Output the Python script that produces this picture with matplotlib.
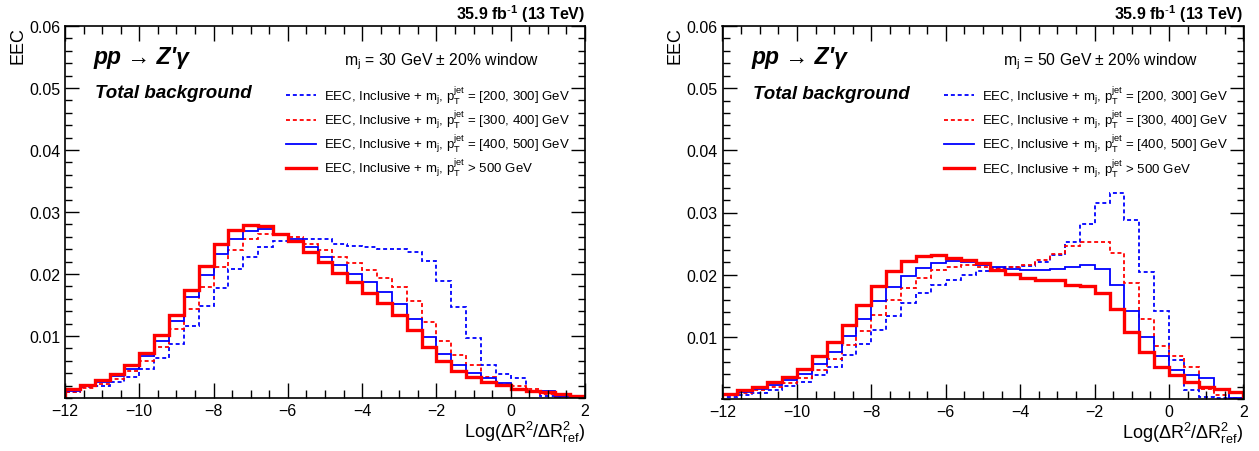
import numpy as np
import matplotlib
matplotlib.use("Agg")
import matplotlib.pyplot as plt

plt.rcParams["font.family"] = ["Liberation Sans", "DejaVu Sans"]
plt.rcParams["mathtext.fontset"] = "custom"
plt.rcParams["mathtext.rm"] = "Liberation Sans"
plt.rcParams["mathtext.it"] = "Liberation Sans:italic"
plt.rcParams["mathtext.bf"] = "Liberation Sans:bold"

# 35 bins of width 0.4 between -12 and 2
edges = np.linspace(-12, 2, 36)

# left panel: m_j = 30 GeV
left_200_300 = [0.0010, 0.0018, 0.0019, 0.0026, 0.0034, 0.0047, 0.0064, 0.0087, 0.0116, 0.0148,
                0.0178, 0.0208, 0.0228, 0.0244, 0.0253, 0.0253, 0.0257, 0.0257, 0.0249, 0.0245,
                0.0243, 0.0241, 0.0241, 0.0236, 0.0221, 0.0189, 0.0146, 0.0096, 0.0054, 0.0038,
                0.0032, 0.0012, 0.0003, 0.0002, 0.0002]
left_300_400 = [0.0010, 0.0016, 0.0022, 0.0031, 0.0043, 0.0059, 0.0082, 0.0111, 0.0144, 0.0179,
                0.0212, 0.0239, 0.0256, 0.0264, 0.0264, 0.0259, 0.0249, 0.0239, 0.0228, 0.0217,
                0.0207, 0.0194, 0.0179, 0.0156, 0.0123, 0.0092, 0.0070, 0.0054, 0.0034, 0.0022,
                0.0019, 0.0014, 0.0006, 0.0002, 0.0001]
left_400_500 = [0.0012, 0.0019, 0.0026, 0.0035, 0.0047, 0.0068, 0.0092, 0.0124, 0.0163, 0.0199,
                0.0232, 0.0257, 0.0270, 0.0272, 0.0264, 0.0256, 0.0243, 0.0228, 0.0214, 0.0200,
                0.0187, 0.0171, 0.0152, 0.0128, 0.0099, 0.0071, 0.0054, 0.0040, 0.0032, 0.0024,
                0.0015, 0.0011, 0.0011, 0.0003, 0.0002]
left_500 = [0.0015, 0.0021, 0.0029, 0.0039, 0.0054, 0.0073, 0.0101, 0.0134, 0.0175, 0.0213,
            0.0248, 0.0271, 0.0279, 0.0278, 0.0265, 0.0253, 0.0236, 0.0220, 0.0202, 0.0187,
            0.0170, 0.0154, 0.0134, 0.0109, 0.0083, 0.0059, 0.0044, 0.0034, 0.0026, 0.0021,
            0.0015, 0.0011, 0.0009, 0.0006, 0.0004]

# right panel: m_j = 50 GeV
right_200_300 = [0.0003, 0.0007, 0.0010, 0.0015, 0.0021, 0.0028, 0.0038, 0.0051, 0.0070, 0.0089,
                 0.0111, 0.0134, 0.0154, 0.0171, 0.0184, 0.0192, 0.0200, 0.0206, 0.0211, 0.0213,
                 0.0214, 0.0220, 0.0232, 0.0253, 0.0281, 0.0316, 0.0331, 0.0288, 0.0205, 0.0142,
                 0.0063, 0.0014, 0.0003, 0.0001, 0.0000]
right_300_400 = [0.0006, 0.0010, 0.0014, 0.0019, 0.0026, 0.0034, 0.0047, 0.0064, 0.0087, 0.0110,
                 0.0135, 0.0159, 0.0179, 0.0195, 0.0208, 0.0213, 0.0216, 0.0213, 0.0211, 0.0213,
                 0.0215, 0.0223, 0.0234, 0.0246, 0.0252, 0.0252, 0.0235, 0.0186, 0.0128, 0.0086,
                 0.0069, 0.0051, 0.0016, 0.0006, 0.0001]
right_400_500 = [0.0007, 0.0012, 0.0016, 0.0022, 0.0031, 0.0041, 0.0056, 0.0076, 0.0102, 0.0129,
                 0.0157, 0.0180, 0.0198, 0.0211, 0.0218, 0.0222, 0.0220, 0.0216, 0.0213, 0.0209,
                 0.0208, 0.0207, 0.0209, 0.0213, 0.0216, 0.0209, 0.0184, 0.0141, 0.0099, 0.0069,
                 0.0047, 0.0038, 0.0034, 0.0014, 0.0001]
right_500 = [0.0008, 0.0014, 0.0019, 0.0027, 0.0035, 0.0048, 0.0069, 0.0091, 0.0119, 0.0152,
             0.0182, 0.0206, 0.0222, 0.0230, 0.0231, 0.0227, 0.0224, 0.0219, 0.0208, 0.0201,
             0.0195, 0.0192, 0.0191, 0.0184, 0.0182, 0.0171, 0.0144, 0.0107, 0.0075, 0.0051,
             0.0039, 0.0027, 0.0019, 0.0016, 0.0011]

labels = [
    r"EEC, Inclusive + m$_{\mathrm{j}}$, p$_{\mathrm{T}}^{\mathrm{jet}}$ = [200, 300] GeV",
    r"EEC, Inclusive + m$_{\mathrm{j}}$, p$_{\mathrm{T}}^{\mathrm{jet}}$ = [300, 400] GeV",
    r"EEC, Inclusive + m$_{\mathrm{j}}$, p$_{\mathrm{T}}^{\mathrm{jet}}$ = [400, 500] GeV",
    r"EEC, Inclusive + m$_{\mathrm{j}}$, p$_{\mathrm{T}}^{\mathrm{jet}}$ > 500 GeV",
]
styles = [
    dict(color="#0000ff", lw=1.3, ls=(0, (2.2, 1.6))),
    dict(color="#ff0000", lw=1.3, ls=(0, (2.2, 1.6))),
    dict(color="#0000ff", lw=1.3, ls="-"),
    dict(color="#ff0000", lw=2.4, ls="-"),
]
mass_windows = ["30", "50"]


def draw_panel(ax, series, mass):
    for vals, st, lab in zip(series, styles, labels):
        ax.stairs(vals, edges, label=lab, **st)

    ax.set_xlim(-12, 2)
    ax.set_ylim(0, 0.06)
    ax.set_xticks([-12, -10, -8, -6, -4, -2, 0, 2])
    ax.set_xticklabels(["\u221212", "\u221210", "\u22128", "\u22126", "\u22124", "\u22122", "0", "2"])
    ax.set_xticks(np.arange(-12, 2.01, 0.5), minor=True)
    ax.set_yticks([0.01, 0.02, 0.03, 0.04, 0.05, 0.06])
    ax.set_yticklabels(["0.01", "0.02", "0.03", "0.04", "0.05", "0.06"])
    ax.set_yticks(np.arange(0, 0.0601, 0.002), minor=True)
    ax.tick_params(which="both", direction="in", top=True, right=True, labelsize=11.5, width=1.0)
    ax.tick_params(which="major", length=11)
    ax.tick_params(which="minor", length=6)
    ax.tick_params(axis="y", which="major", length=10)
    ax.tick_params(axis="y", which="minor", length=5)
    for sp in ax.spines.values():
        sp.set_linewidth(1.2)

    ax.set_ylabel("EEC", loc="top", fontsize=13, labelpad=2)
    ax.set_xlabel(r"Log($\Delta$R$^{2}$/$\Delta$R$^{2}_{\mathrm{ref}}$)", loc="right", fontsize=13, labelpad=1)
    ax.set_title("35.9 fb$^{\\mathbf{\\text{-}1}}$ (13 TeV)", loc="right", fontsize=11.5, fontweight="bold", pad=5)

    ax.text(0.055, 0.917, "pp \u2192 Z'\u03b3", transform=ax.transAxes,
            fontsize=16.5, fontweight="bold", style="italic", va="center")
    ax.text(0.058, 0.82, "Total background", transform=ax.transAxes,
            fontsize=13.5, fontweight="bold", style="italic", va="center")
    ax.text(0.725, 0.906, "m$_{\\mathrm{j}}$ = " + mass + " GeV \u00b1 20% window", transform=ax.transAxes,
            fontsize=11.3, ha="center", va="center")

    ax.legend(loc="upper left", bbox_to_anchor=(0.415, 0.857), frameon=False, fontsize=9.5,
              handlelength=2.3, handletextpad=0.6, labelspacing=0.15, borderaxespad=0)


fig = plt.figure(figsize=(12.59, 4.52), dpi=100)
ax1 = fig.add_axes([65 / 1259, 53 / 452, 520 / 1259, 372 / 452])
ax2 = fig.add_axes([722.5 / 1259, 52 / 452, 521 / 1259, 373 / 452])

draw_panel(ax1, [left_200_300, left_300_400, left_400_500, left_500], mass_windows[0])
draw_panel(ax2, [right_200_300, right_300_400, right_400_500, right_500], mass_windows[1])

fig.savefig("out.png", dpi=100)
